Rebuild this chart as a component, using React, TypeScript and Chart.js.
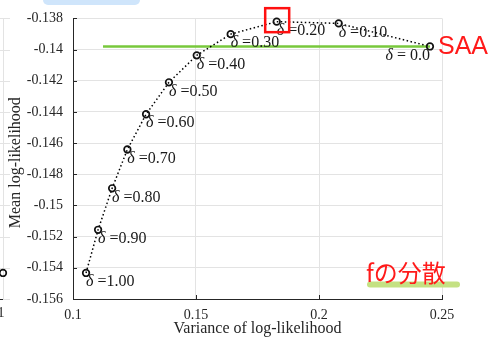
import { useEffect, useRef } from 'react';
import { Chart, registerables } from 'chart.js';

Chart.register(...registerables);

// δ sweep: variance vs mean of the log-likelihood
const deltaLabels = ['1.00', '0.90', '0.80', '0.70', '0.60', '0.50', '0.40', '0.30', '0.20', '0.10', '0.0'];
const variance = [0.1053, 0.1102, 0.1159, 0.1221, 0.1297, 0.139, 0.1503, 0.1641, 0.1828, 0.208, 0.2451];
const meanLL = [-0.15433, -0.15156, -0.1489, -0.14641, -0.14415, -0.1421, -0.14037, -0.13901, -0.13821, -0.13832, -0.1398];

// SAA reference level (horizontal line ending at δ = 0)
const saaLevel = -0.1398;
const saaLineStart = 0.1122;

// neighbouring panel's last point, seen at the left edge
const neighbourLastValue = -0.15433;

const highlightIndex = 8; // δ = 0.20

const X_MIN = 0.1;
const X_MAX = 0.25;
const Y_MIN = -0.156;
const Y_MAX = -0.138;

const TEXT = '#262626';
const GRID = '#e3e3e3';
const SERIF = '"Liberation Serif", "DejaVu Serif", serif';

const fmt = (v: number, d: number) => String(Number(Number(v).toFixed(d)));

const decorations = {
  id: 'decorations',
  beforeDraw(chart: any) {
    const ctx = chart.ctx as CanvasRenderingContext2D;
    const y = chart.scales.y;
    const area = chart.chartArea;
    ctx.save();
    // neighbour panel fragment at the left edge
    ctx.strokeStyle = GRID;
    ctx.lineWidth = 1;
    y.ticks.forEach((t: any) => {
      const py = Math.round(y.getPixelForValue(t.value)) + 0.5;
      ctx.beginPath();
      ctx.moveTo(0, py);
      ctx.lineTo(10, py);
      ctx.stroke();
    });
    ctx.beginPath();
    ctx.moveTo(3.5, area.top);
    ctx.lineTo(3.5, area.bottom);
    ctx.stroke();
    ctx.strokeStyle = TEXT;
    ctx.beginPath();
    ctx.moveTo(0, area.bottom + 0.5);
    ctx.lineTo(3, area.bottom + 0.5);
    ctx.stroke();
    ctx.fillStyle = TEXT;
    ctx.font = `14px ${SERIF}`;
    ctx.textAlign = 'right';
    ctx.textBaseline = 'middle';
    ctx.fillText('0.1', 4.5, area.bottom + 14);
    ctx.strokeStyle = '#111';
    ctx.lineWidth = 1.7;
    ctx.beginPath();
    ctx.arc(3, y.getPixelForValue(neighbourLastValue), 3.3, 0, Math.PI * 2);
    ctx.stroke();

    // tab at the top
    ctx.fillStyle = '#cfe5fb';
    ctx.beginPath();
    ctx.roundRect(43, -10, 97, 15, 5);
    ctx.fill();
    ctx.restore();
  },
  afterDraw(chart: any) {
    const ctx = chart.ctx as CanvasRenderingContext2D;
    const xs = chart.scales.x;
    const ys = chart.scales.y;
    const area = chart.chartArea;
    ctx.save();

    // inward tick marks
    ctx.strokeStyle = TEXT;
    ctx.lineWidth = 1;
    xs.ticks.forEach((t: any) => {
      const px = Math.round(xs.getPixelForValue(t.value)) + 0.5;
      ctx.beginPath();
      ctx.moveTo(px, area.bottom);
      ctx.lineTo(px, area.bottom - 4);
      ctx.stroke();
    });
    ys.ticks.forEach((t: any) => {
      const py = Math.round(ys.getPixelForValue(t.value)) + 0.5;
      ctx.beginPath();
      ctx.moveTo(area.left, py);
      ctx.lineTo(area.left + 4, py);
      ctx.stroke();
    });

    // axis titles
    ctx.fillStyle = TEXT;
    ctx.font = `16px ${SERIF}`;
    ctx.textAlign = 'center';
    ctx.textBaseline = 'middle';
    ctx.fillText('Variance of log-likelihood', (area.left + area.right) / 2, 329);
    ctx.save();
    ctx.translate(16, (area.top + area.bottom) / 2 + 4);
    ctx.rotate(-Math.PI / 2);
    ctx.fillText('Mean log-likelihood', 0, 0);
    ctx.restore();

    // δ labels next to each point
    const meta = chart.getDatasetMeta(0);
    const last = deltaLabels.length - 1;
    meta.data.forEach((pt: any, i: number) => {
      const rest = i === last ? ' = ' + deltaLabels[i] : ' =' + deltaLabels[i];
      ctx.font = `italic 16px ${SERIF}`;
      const wd = ctx.measureText('δ').width;
      ctx.font = `16px ${SERIF}`;
      const wr = ctx.measureText(rest).width;
      const left = i === last ? pt.x - (wd + wr) : pt.x;
      const cy = pt.y + 9;
      ctx.textAlign = 'left';
      ctx.textBaseline = 'middle';
      ctx.fillStyle = '#1a1a1a';
      ctx.font = `italic 16px ${SERIF}`;
      ctx.fillText('δ', left, cy);
      ctx.font = `16px ${SERIF}`;
      ctx.fillText(rest, left + wd, cy);
    });

    // highlight box around the best point
    const hp = meta.data[highlightIndex];
    ctx.strokeStyle = '#ff1010';
    ctx.lineWidth = 2.5;
    ctx.strokeRect(hp.x - 11.5, hp.y - 13.5, 24, 24);

    // SAA annotation
    const saaY = ys.getPixelForValue(saaLevel);
    ctx.fillStyle = '#ff1a1a';
    ctx.font = '25px "Liberation Sans", Arial, sans-serif';
    ctx.textAlign = 'left';
    ctx.textBaseline = 'middle';
    ctx.fillText('SAA', 438, saaY + 1);

    // variance-of-f annotation with marker highlight
    ctx.fillStyle = '#c4e183';
    ctx.beginPath();
    ctx.roundRect(367, 281.5, 93, 6, 3);
    ctx.fill();
    ctx.fillStyle = '#ff1a1a';
    ctx.font = '24px "Noto Sans CJK JP", sans-serif';
    ctx.fillText('fの分散', 366, 273);

    ctx.restore();
  },
};

export default function App() {
  const ref = useRef<HTMLCanvasElement>(null);

  useEffect(() => {
    if (!ref.current) return;
    const chart = new Chart(ref.current, {
      type: 'scatter',
      data: {
        datasets: [
          {
            data: variance.map((v, i) => ({ x: v, y: meanLL[i] })),
            showLine: true,
            borderColor: '#000',
            borderWidth: 1.5,
            borderDash: [1.5, 2.5],
            pointRadius: 3.3,
            pointBorderWidth: 1.7,
            pointBorderColor: '#111',
            pointBackgroundColor: 'rgba(0,0,0,0)',
            clip: false,
            order: 1,
          },
          {
            data: [
              { x: saaLineStart, y: saaLevel },
              { x: variance[variance.length - 1], y: saaLevel },
            ],
            showLine: true,
            borderColor: '#78c83c',
            borderWidth: 2.6,
            pointRadius: 0,
            clip: false,
            order: 2,
          },
        ],
      },
      options: {
        animation: false,
        responsive: false,
        devicePixelRatio: 1,
        layout: { padding: { top: 15, right: 51, left: 0, bottom: 0 } },
        plugins: { legend: { display: false }, tooltip: { enabled: false } },
        scales: {
          x: {
            type: 'linear',
            min: X_MIN,
            max: X_MAX,
            afterFit: (s: any) => {
              s.height = 41;
            },
            afterBuildTicks: (s: any) => {
              s.ticks = [0.1, 0.15, 0.2, 0.25].map((v) => ({ value: v }));
            },
            grid: { color: GRID, drawTicks: false },
            border: { color: TEXT, width: 1 },
            ticks: {
              padding: 8,
              color: TEXT,
              font: { family: SERIF, size: 14 },
              callback: (v: any) => fmt(v, 3),
            },
          },
          y: {
            type: 'linear',
            min: Y_MIN,
            max: Y_MAX,
            afterFit: (s: any) => {
              s.width = 73;
            },
            grid: { color: GRID, drawTicks: false },
            border: { color: TEXT, width: 1 },
            ticks: {
              stepSize: 0.002,
              autoSkip: false,
              padding: 10,
              color: TEXT,
              font: { family: SERIF, size: 14 },
              callback: (v: any) => fmt(v, 3),
            },
          },
        },
      },
      plugins: [decorations],
    });
    return () => chart.destroy();
  }, []);

  return (
    <div style={{ position: 'fixed', left: 0, top: 0, width: 493, height: 340, background: '#fff' }}>
      <canvas ref={ref} width={493} height={340} style={{ width: 493, height: 340, display: 'block' }} />
    </div>
  );
}
